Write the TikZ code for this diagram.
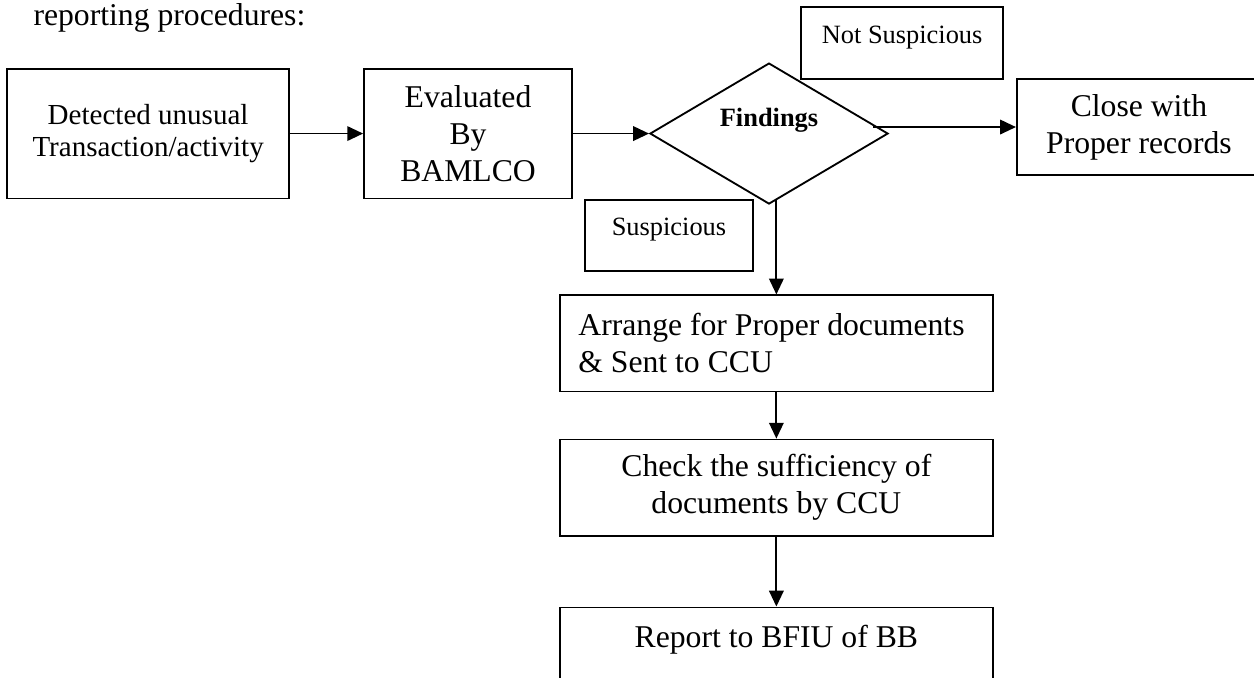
\documentclass[tikz,border=0pt]{standalone}
\usepackage{fontspec}
\setmainfont{Liberation Serif}
\usepackage{tikz}
\usetikzlibrary{shapes.geometric}
\usetikzlibrary{arrows.meta}

\begin{document}
\begin{tikzpicture}[node distance=4cm]
    \tikzstyle{procbox} = [rectangle, draw, line width=0.7pt, minimum height=1.279cm, minimum width=5.764cm, align=center, inner sep=2pt, font=\fontsize{12}{14}\selectfont]
    \tikzstyle{tagbox} = [rectangle, draw, line width=0.7pt, inner sep=0pt, text height=13.6pt, text depth=13.6pt, font=\fontsize{10}{12}\selectfont]
    \tikzstyle{decision} = [diamond, draw, line width=0.7pt, aspect=1.7, inner sep=0pt, minimum width=3.170cm, minimum height=1.877cm, text height=7pt, text depth=12.2pt, font=\fontsize{10}{12}\selectfont\bfseries]
    \tikzstyle{arr} = [draw, line width=0.7pt, -{Triangle[length=6pt,width=5.5pt]}]

    \useasboundingbox (0,0) rectangle (16.695,-9.013);

    \node [anchor=base west, inner sep=0pt, font=\fontsize{12}{14}\selectfont] (title) at (0.439,-0.334) {reporting procedures:};

    % top row
    \node [procbox, minimum width=3.754cm, minimum height=1.729cm, font=\fontsize{11}{12.2}\selectfont] (detect) at (1.972,-1.778) {Detected unusual\\Transaction/activity};
    \node [procbox, node distance=4.259cm, right of=detect, minimum width=2.769cm, minimum height=1.729cm] (eval) {Evaluated\\By\\BAMLCO};
    \node [decision, node distance=4.007cm, right of=eval] (find) {Findings};
    \node [procbox, node distance=4.925cm, right of=find, yshift=0.087cm, minimum width=3.25cm] (close) {Close with\\Proper records};

    % Labels
    \node [tagbox, node distance=1.205cm, above of=find, xshift=1.772cm, minimum width=2.689cm] (notsusp) {Not Suspicious};
    \node [tagbox, node distance=1.357cm, below of=find, xshift=-1.332cm, minimum width=2.235cm] (susp) {Suspicious};

    % down the column
    \node [procbox, node distance=2.794cm, below of=find, xshift=0.098cm, align=flush left, text width=150pt, inner xsep=7pt] (arrange) {Arrange for Proper documents\\\& Sent to CCU};
    \node [procbox, node distance=1.919cm, below of=arrange] (check) {Check the sufficiency of\\documents by CCU};
    \node [procbox, node distance=2.236cm, below of=check, inner sep=0pt, text height=15.2pt, text depth=21.2pt] (report) {Report to BFIU of BB};

    \coordinate (fx) at ([xshift=-6pt]find.east);
    \coordinate (fs) at ([yshift=1.7pt]find.south);

    \draw [arr] (detect) -- (eval);
    \draw [arr] (eval) -- (find);
    \draw [arr] (fx |- close.west) -- (close.west);
    \draw [arr] (fs -| arrange.north) -- (arrange.north);
    \draw [arr] (arrange) -- (check);
    \draw [arr] (check) -- (report);
\end{tikzpicture}
\end{document}
